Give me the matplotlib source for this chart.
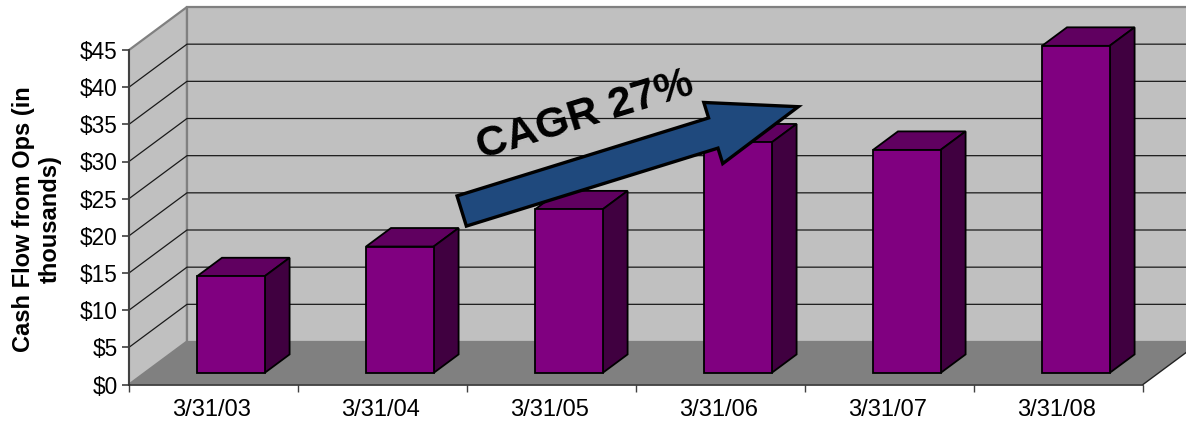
import matplotlib
matplotlib.use("Agg")
import matplotlib.pyplot as plt
from matplotlib.patches import Polygon, FancyArrow
from matplotlib.transforms import Affine2D

plt.rcParams['font.family'] = ['Liberation Sans', 'DejaVu Sans']

dates = ['3/31/03', '3/31/04', '3/31/05', '3/31/06', '3/31/07', '3/31/08']
cash_flow = [13, 17, 22, 31, 30, 44]
y_ticks = [0, 5, 10, 15, 20, 25, 30, 35, 40, 45]
y_labels = ['$0', '$5', '$10', '$15', '$20', '$25', '$30', '$35', '$40', '$45']

W, H = 1186, 422
fig = plt.figure(figsize=(W / 100, H / 100), dpi=100, facecolor='white')
# axes = the front plane of the fake 3d box
left, right, top, bottom = 129, 1143, 50, 384.5
ax = fig.add_axes([left / W, 1 - bottom / H, (right - left) / W, (bottom - top) / H])
ax.set_xlim(0, 6)
ax.set_ylim(0, 45)
ax.patch.set_visible(False)

# depth in data units, 1 = back wall
dep_x = 58 / ((right - left) / 6)
dep_y = 43 / ((bottom - top) / 45)

def pt(x, y, d=0):
    return (x + d * dep_x, y + d * dep_y)

def box(points, color, z, edge='none', lw=0):
    ax.add_patch(Polygon(points, closed=True, facecolor=color, edgecolor=edge,
                         linewidth=lw, zorder=z, clip_on=False))

# walls and floor
box([pt(0, 0), pt(0, 45), pt(0, 45, 1), pt(0, 0, 1)], '#c0c0c0', 1, '#808080', 1.6)
box([pt(0, 0, 1), pt(0, 45, 1), pt(6, 45, 1), pt(6, 0, 1)], '#c0c0c0', 1, '#808080', 1.6)
box([pt(0, 0), pt(6, 0), pt(6, 0, 1), pt(0, 0, 1)], '#808080', 2)

# gridlines, side wall then back wall
for v in y_ticks[1:-1]:
    a = pt(0, v)
    b = pt(0, v, 1)
    c = pt(6, v, 1)
    ax.plot([a[0], b[0], c[0]], [a[1], b[1], c[1]], color='#1a1a1a', lw=0.9,
            zorder=1.5, clip_on=False, snap=False)
a = pt(6, 0)
b = pt(6, 0, 1)
ax.plot([a[0], b[0]], [a[1], b[1]], color='#222222', lw=1, zorder=3, clip_on=False)

# bars
front, back = 0.27, 0.70
bw = 0.4
base = front * dep_y
xs = [i + 0.51 + front * dep_x for i in range(len(dates))]
ax.bar(xs, cash_flow, width=bw, bottom=base, color='#800080', edgecolor='black',
       linewidth=1.3, zorder=6, clip_on=False)
step = back - front
for x, v in zip(xs, cash_flow):
    l = x - bw / 2
    r = x + bw / 2
    t = base + v
    # top and side faces
    box([(l, t), (r, t), pt(r, t, step), pt(l, t, step)], '#600060', 5, 'black', 1.3)
    box([(r, base), (r, t), pt(r, t, step), pt(r, base, step)], '#400040', 5, 'black', 1.3)

# axes
for s in ['top', 'right']:
    ax.spines[s].set_visible(False)
ax.spines['left'].set_color('#404040')
ax.spines['left'].set_linewidth(1.4)
ax.spines['bottom'].set_color('#303030')
ax.spines['bottom'].set_linewidth(1.2)
ax.spines['left'].set_zorder(7)
ax.spines['bottom'].set_zorder(7)
ax.set_yticks(y_ticks)
ax.set_yticklabels(y_labels, fontsize=16.3)
ax.set_xticks(range(7))
ax.set_xticklabels([])
ax.set_xticks([i + 0.49 for i in range(6)], minor=True)
ax.set_xticklabels(dates, minor=True, fontsize=17)
ax.tick_params(axis='x', which='minor', length=0, pad=10.5)
ax.tick_params(axis='x', which='major', length=5, width=1, color='#404040')
ax.tick_params(axis='y', length=5, width=1.2, color='#404040', pad=3)

# annotation and axis title are placed in picture pixels
px = Affine2D().scale(1, -1).translate(0, H)
arrow = FancyArrow(461.7, 211, 336.6, -104.3, width=31.6, head_width=64, head_length=89,
                   length_includes_head=True, facecolor='#1f497d', edgecolor='black',
                   linewidth=2.4, transform=px, zorder=8, joinstyle='miter')
arrow.set_clip_on(False)
fig.add_artist(arrow)
fig.text(585, 116, 'CAGR 27%', transform=px, fontsize=31, fontweight='bold', rotation=17,
         ha='center', va='center', rotation_mode='anchor', zorder=9)
fig.text(37, 219, 'Cash Flow from Ops (in\nthousands)', transform=px, fontsize=17,
         fontweight='bold', rotation=90, ha='center', va='center', linespacing=1.2,
         multialignment='center')

fig.savefig('out.png', dpi=100)
